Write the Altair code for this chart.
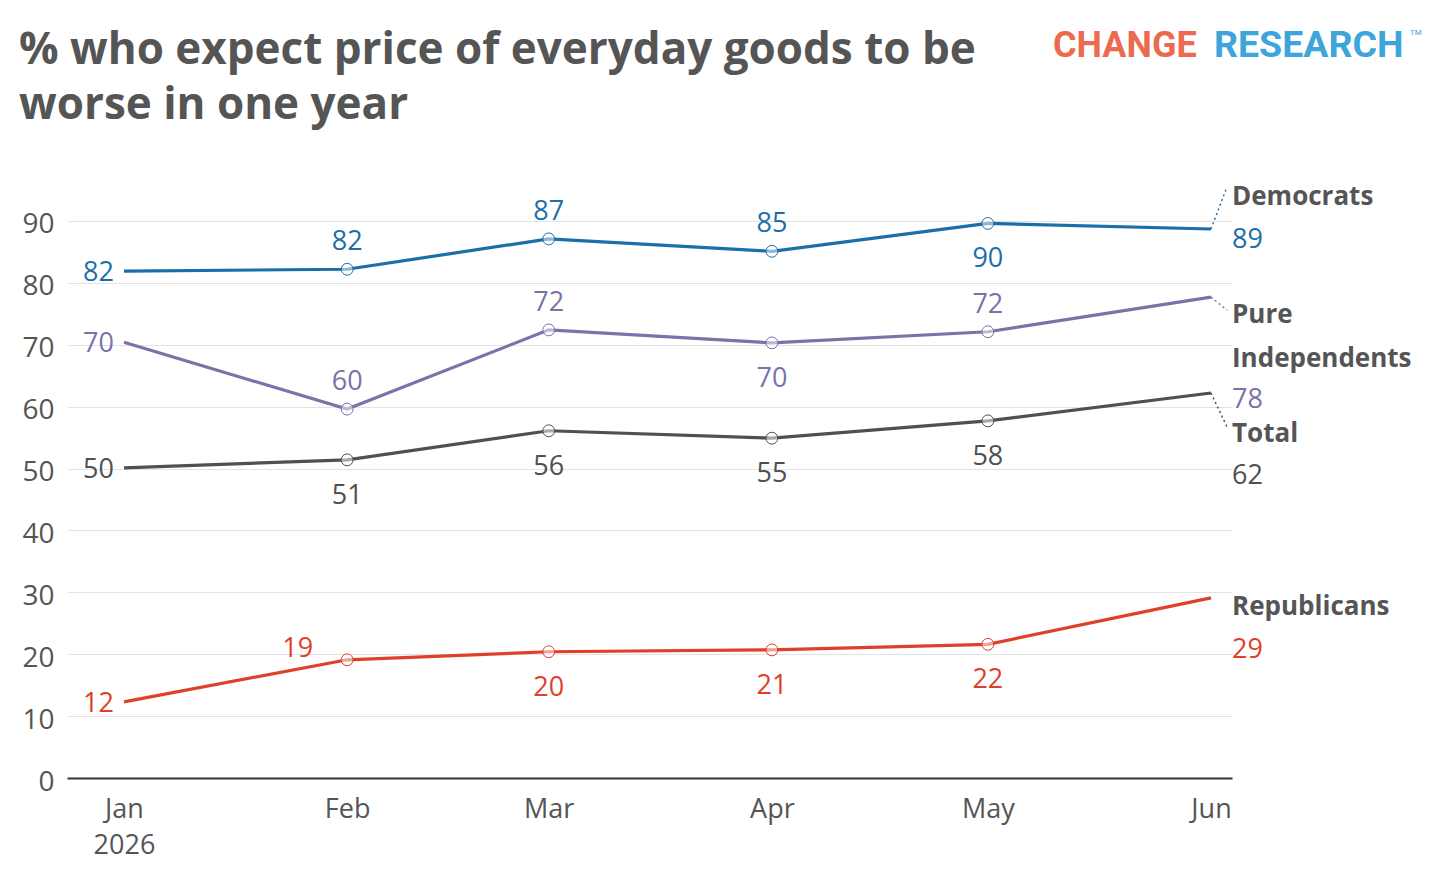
import altair as alt
import pandas as pd

# ---------------- data ----------------
months = ["2026-01-01", "2026-02-01", "2026-03-01", "2026-04-01", "2026-05-01", "2026-06-01"]
series = ["Democrats", "Pure Independents", "Total", "Republicans"]
democrats = [81.9, 82.2, 87.1, 85.1, 89.6, 88.7]
independents = [70.4, 59.6, 72.4, 70.3, 72.1, 77.7]
total = [50.1, 51.4, 56.1, 54.9, 57.7, 62.2]
republicans = [12.3, 19.1, 20.4, 20.7, 21.6, 29.1]
colors = ["#1B6FA8", "#7A72A8", "#505050", "#E0402A"]

title_lines = ["% who expect price of everyday goods to be", "worse in one year"]
end_names = [["Democrats"], ["Pure", "Independents"], ["Total"], ["Republicans"]]
end_values = [89, 78, 62, 29]

# ---------------- layout (label placement) ----------------
placements = {
    "Democrats": ["left", "above", "above", "above", "below", "end"],
    "Pure Independents": ["left", "above", "above", "below", "above", "end"],
    "Total": ["left", "below", "below", "below", "below", "end"],
    "Republicans": ["left", "upleft", "below", "below", "below", "end"],
}
# vertical position (in data units) of the end-label lines
end_name_pos = [[94.2], [75.1, 68.0], [55.9], [27.9]]
end_value_pos = [87.2, 61.4, 49.1, 21.0]
connector_pos = [95.5, 75.6, 56.7, None]

F = "Open Sans"
GRAY = "#555555"
FS = 27

rows = []
for s, vals in zip(series, [democrats, independents, total, republicans]):
    for i, (m, v) in enumerate(zip(months, vals)):
        rows.append(dict(series=s, month=m, value=v, idx=i, place=placements[s][i]))
df = pd.DataFrame(rows)

name_rows, val_rows, conn_rows = [], [], []
for k, s in enumerate(series):
    for t, p in zip(end_names[k], end_name_pos[k]):
        name_rows.append(dict(series=s, month=months[-1], value=p, text=t))
    val_rows.append(dict(series=s, month=months[-1], value=end_value_pos[k], text=str(end_values[k])))
    if connector_pos[k] is not None:
        last = [democrats, independents, total, republicans][k][-1]
        conn_rows.append(dict(series=s, month=months[-1], value=last, value2=connector_pos[k]))
names_df = pd.DataFrame(name_rows)
vals_df = pd.DataFrame(val_rows)
conn_df = pd.DataFrame(conn_rows)

x_enc = alt.X(
    "month:T",
    scale=alt.Scale(
        type="utc",
        domain=[
            alt.DateTime(year=2025, month=12, date=24, hours=2, utc=True),
            alt.DateTime(year=2026, month=6, date=3, hours=22, utc=True),
        ],
    ),
    axis=alt.Axis(
        values=[alt.DateTime(year=2026, month=m, date=1, utc=True) for m in range(1, 7)],
        labelExpr="utcmonth(datum.value)==0 ? [utcFormat(datum.value,'%b'), utcFormat(datum.value,'%Y')] : utcFormat(datum.value,'%b')",
        title=None,
        grid=False,
        ticks=False,
        domain=True,
        domainColor="#333333",
        domainWidth=2,
        labelFont=F,
        labelFontSize=FS,
        labelColor=GRAY,
        labelPadding=18,
        labelLineHeight=36,
        labelBound=False,
        labelFlush=False,
        labelOverlap=False,
    ),
)
y_enc = alt.Y(
    "value:Q",
    scale=alt.Scale(domain=[0, 95], nice=False),
    axis=alt.Axis(
        values=list(range(0, 100, 10)),
        title=None,
        grid=True,
        gridColor="#e3e3e3",
        gridWidth=1,
        domain=False,
        ticks=False,
        labelFont=F,
        labelFontSize=28,
        labelColor=GRAY,
        labelPadding=13,
        labelBaseline="middle",
        labelOffset=4,
    ),
)
c_enc = alt.Color("series:N", scale=alt.Scale(domain=series, range=colors), legend=None)

base = alt.Chart(df).encode(x=x_enc, y=y_enc, color=c_enc)

lines = base.mark_line(strokeWidth=3.2)
points = base.transform_filter("datum.idx > 0 && datum.idx < 5").mark_point(
    shape="circle", size=140, filled=False, strokeWidth=1, fill="white", fillOpacity=0.5
)


def lab(place, **kw):
    return (
        base.transform_filter(f"datum.place == '{place}'")
        .mark_text(font=F, fontSize=FS, **kw)
        .encode(text=alt.Text("value:Q", format=".0f"))
    )


lab_left = lab("left", align="right", baseline="middle", dx=-10, dy=2)
lab_above = lab("above", align="center", baseline="middle", dy=-27)
lab_below = lab("below", align="center", baseline="middle", dy=36)
lab_upleft = lab("upleft", align="right", baseline="middle", dx=-34, dy=-11)

end_names_layer = alt.Chart(names_df).mark_text(
    font=F, fontSize=26, fontWeight="bold", color=GRAY, align="left", baseline="middle", dx=21, dy=2
).encode(x=x_enc, y=y_enc, text="text:N")
end_vals_layer = alt.Chart(vals_df).mark_text(
    font=F, fontSize=FS, align="left", baseline="middle", dx=21, dy=2
).encode(x=x_enc, y=y_enc, text="text:N", color=c_enc)
connectors = alt.Chart(conn_df).mark_rule(
    strokeWidth=1.5, strokeDash=[2, 3], x2Offset=16
).encode(x=x_enc, x2=alt.X2("month"), y=y_enc, y2=alt.Y2("value2"), color=c_enc)

# title and logo (placed in the top padding)
title_df = pd.DataFrame({"t": [title_lines]})
title_layer = alt.Chart(title_df).mark_text(
    font=F, fontSize=44, fontWeight="bold", color=GRAY, align="left",
    baseline="alphabetic", lineHeight=55,
).encode(x=alt.value(-48), y=alt.value(-126), text="t:N")

logo_df = pd.DataFrame({"a": ["CHANGE"], "b": ["RESEARCH"], "c": ["TM"]})
logo1 = alt.Chart(logo_df).mark_text(
    font="Roboto", fontSize=36, fontWeight="bold", color="#EC6A4F", align="left", baseline="middle"
).encode(x=alt.value(986), y=alt.value(-144), text="a:N")
logo2 = alt.Chart(logo_df).mark_text(
    font="Roboto", fontSize=37.5, fontWeight="bold", color="#3DA5D9", align="left", baseline="middle",
).encode(x=alt.value(1147), y=alt.value(-144), text="b:N")
logo3 = alt.Chart(logo_df).mark_text(
    font="Roboto", fontSize=8, color="#3DA5D9", align="left", baseline="middle"
).encode(x=alt.value(1343), y=alt.value(-157), text="c:N")

chart = (
    alt.layer(
        lines, points, connectors, lab_left, lab_above, lab_below, lab_upleft,
        end_names_layer, end_vals_layer, title_layer, logo1, logo2, logo3,
    )
    .properties(
        width=1165,
        height=588,
        autosize=alt.AutoSizeParams(type="none"),
        padding={"left": 59, "top": 182, "right": 200, "bottom": 94},
    )
    .configure_view(stroke=None)
)

chart.save("out.html", embed_options={"renderer": "svg", "actions": False})
